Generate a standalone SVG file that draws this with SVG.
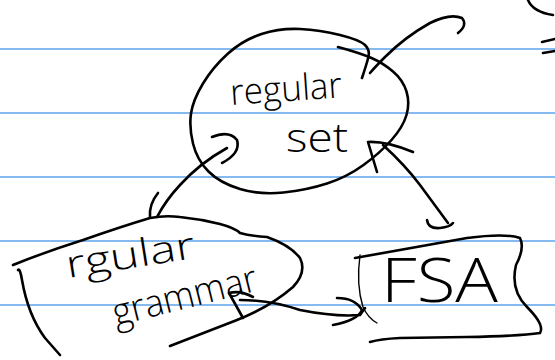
<svg xmlns="http://www.w3.org/2000/svg" width="555" height="360" viewBox="0 0 555 360">
  <style>
    .rule { stroke: #5da3ec; stroke-width: 1.6; }
    .ink { fill: none; stroke: #000; stroke-width: 2.6; stroke-linecap: round; stroke-linejoin: round; }
    .fine { fill: none; stroke: #000; stroke-width: 1.4; stroke-linecap: round; stroke-linejoin: round; }
    .hand { font-family: "Open Sans", "Inter", "DejaVu Sans", sans-serif; font-weight: 300; fill: #000; }
  </style>
  <rect width="555" height="360" fill="#fff"/>

  <!-- ruled paper -->
  <g id="paper">
    <line class="rule" x1="0" y1="49" x2="555" y2="49"/>
    <line class="rule" x1="0" y1="113" x2="555" y2="113"/>
    <line class="rule" x1="0" y1="177" x2="555" y2="177"/>
    <line class="rule" x1="0" y1="241" x2="555" y2="241"/>
    <line class="rule" x1="0" y1="305" x2="555" y2="305"/>
  </g>

  <!-- stray marks at the top right edge -->
  <g id="margin-marks">
    <path class="ink" d="M528,0 Q533,12 553,15"/>
    <path class="ink" d="M542,42 L555,39"/>
    <path class="ink" d="M543,53 L555,51"/>
  </g>

  <g id="regular-set">
    <path class="ink" d="M362,78 Q367,63 368.5,56.5 Q370,50 365,45 Q360,40 340,35 Q320,30 300,29 Q280,28 261.5,34 Q243,40 228,53.5 Q213,67 203,83.5 Q193,100 191,113.5 Q189,127 193,143.5 Q197,160 208.5,171.5 Q220,183 240,189 Q260,195 283.5,192.5 Q307,190 327,183.5 Q347,177 363.5,165 Q380,153 391.5,140 Q403,127 406.5,115 Q410,103 406.5,91.5 Q403,80 393,71.5 Q383,63 371.5,58 Q360,53 338,47"/>
    <text class="hand" x="231" y="105" font-size="36" textLength="112" lengthAdjust="spacingAndGlyphs" transform="rotate(-4 231 105)">regular</text>
    <text class="hand" x="286" y="152" font-size="40" textLength="62" lengthAdjust="spacingAndGlyphs">set</text>
  </g>

  <g id="regular-grammar">
    <path class="ink" d="M13,265 Q45,252 83,240 Q120,227 150,218 Q165,215 180,217 Q200,219 220,224 Q235,228 240,233 Q250,236 267,237 Q290,245 300,258 Q307,272 293,287 Q270,307 237,320 L170,346"/>
    <path class="ink" d="M18,270 Q20,268 22,280 Q28,315 45,338 L60,355"/>
    <text class="hand" x="68" y="278" font-size="38" textLength="130" lengthAdjust="spacingAndGlyphs" transform="rotate(-9 68 278)">rgular</text>
    <text class="hand" x="116" y="326" font-size="38" textLength="148" lengthAdjust="spacingAndGlyphs" transform="rotate(-14 116 326)">grammar</text>
  </g>

  <g id="fsa">
    <path class="ink" d="M355,258 L467,238 Q505,233 520,238 Q525,248 516,265 Q510,290 527,307 Q545,325 540,333 Q520,336 467,337 L400,338 Q380,339 370,342"/>
    <path class="fine" d="M360,255 Q356,285 363,307 Q368,318 377,323"/>
    <text class="hand" x="381" y="302" font-size="60" textLength="117" lengthAdjust="spacingAndGlyphs">FSA</text>
  </g>

  <g id="connectors">
    <!-- regular set out to the upper right -->
    <path class="ink" d="M370,73 Q376,66 385,57 Q405,37 430,23 Q450,13 462,18 Q468,25 458,33"/>
    <!-- regular grammar to regular set -->
    <path class="ink" d="M150,217 Q149,204 158,193"/>
    <path class="ink" d="M157,217 Q166,200 180,185 Q200,163 227,148"/>
    <path class="ink" d="M212,137 Q229,130 237,140 Q241,153 222,163"/>
    <!-- regular set to FSA -->
    <path class="ink" d="M377,172 L368,142 Q386,141 413,152"/>
    <path class="ink" d="M383,145 Q405,165 420,185 L448,223"/>
    <path class="ink" d="M427,220 Q428,229 440,228 Q450,227 453,223"/>
    <!-- regular grammar to FSA -->
    <path class="ink" d="M253,297 Q240,290 229,293 L243,318"/>
    <path class="ink" d="M240,300 Q270,300 300,310 Q335,317 360,315 L365,308"/>
    <path class="ink" d="M337,298 Q355,298 362,310 Q358,320 333,325"/>
  </g>
</svg>
